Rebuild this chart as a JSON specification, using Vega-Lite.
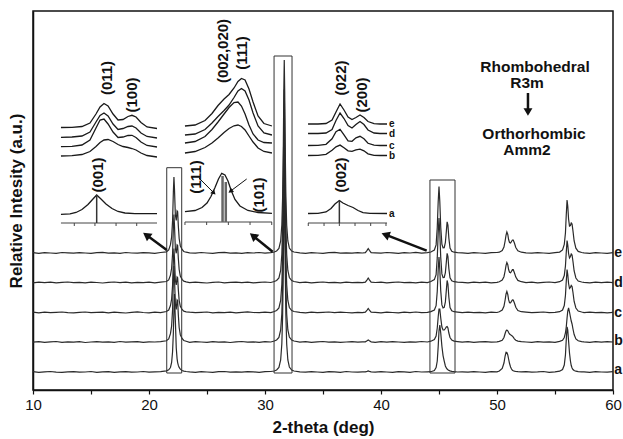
{
"$schema": "https://vega.github.io/schema/vega-lite/v6.json",
"width": 580, "height": 379,
"autosize": {"type": "none"},
"padding": {"left": 33, "top": 11, "right": 10, "bottom": 49},
"config": {"font": "Liberation Sans", "view": {"stroke": "#111", "strokeWidth": 1.5}},
"datasets": {
"main": [
{"t":10,"a":18.3,"b":47.8,"c":77.9,"d":107.2,"e":137.4},
{"t":10.5,"a":17.7,"b":48.4,"c":77.2,"d":107.8,"e":136.7},
{"t":11,"a":18.1,"b":47.6,"c":77.8,"d":107.4,"e":137.3},
{"t":11.5,"a":18.5,"b":48.2,"c":77.3,"d":107.9,"e":137.0},
{"t":12,"a":17.9,"b":48.5,"c":77.6,"d":107.1,"e":136.6},
{"t":12.5,"a":17.6,"b":47.7,"c":78.0,"d":107.6,"e":137.5},
{"t":13,"a":18.2,"b":48.1,"c":77.4,"d":108.0,"e":137.1},
{"t":13.5,"a":18.4,"b":47.9,"c":77.1,"d":107.3,"e":136.8},
{"t":14,"a":17.8,"b":48.3,"c":77.7,"d":107.7,"e":137.4},
{"t":14.5,"a":18.0,"b":47.5,"c":78.0,"d":107.2,"e":137.0},
{"t":15,"a":18.5,"b":48.0,"c":77.3,"d":107.9,"e":136.6},
{"t":15.5,"a":17.7,"b":48.4,"c":77.6,"d":107.5,"e":137.3},
{"t":16,"a":18.1,"b":47.8,"c":77.9,"d":107.0,"e":137.6},
{"t":16.5,"a":18.3,"b":48.2,"c":77.2,"d":107.6,"e":136.9},
{"t":17,"a":17.6,"b":47.6,"c":77.8,"d":108.0,"e":137.2},
{"t":17.5,"a":18.2,"b":48.5,"c":77.4,"d":107.3,"e":136.7},
{"t":18,"a":18.4,"b":47.9,"c":77.0,"d":107.8,"e":137.5},
{"t":18.5,"a":17.9,"b":48.1,"c":77.7,"d":107.1,"e":137.0},
{"t":19,"a":18.0,"b":48.4,"c":78.1,"d":107.7,"e":136.8},
{"t":19.5,"a":18.5,"b":47.7,"c":77.5,"d":107.4,"e":137.4},
{"t":20,"a":17.8,"b":48.2,"c":77.2,"d":107.9,"e":137.1},
{"t":20.5,"a":18.2,"b":48.0,"c":77.8,"d":107.2,"e":136.7},
{"t":21,"a":18.4,"b":48.4,"c":77.4,"d":107.8,"e":137.5},
{"t":21.5,"a":19.2,"b":49.2,"c":78.5,"d":108.5,"e":138.2},
{"t":21.7,"a":20.2,"b":51.0,"c":80.0,"d":110.1,"e":140.0},
{"t":21.85,"a":22.5,"b":56.3,"c":84.5,"d":114.9,"e":145.3},
{"t":21.95,"a":27.5,"b":63.9,"c":90.9,"d":121.7,"e":152.9},
{"t":22.03,"a":38,"b":79.6,"c":104.2,"d":135.8,"e":168.6},
{"t":22.1,"a":57,"b":108.7,"c":128.6,"d":161.8,"e":197.7},
{"t":22.15,"a":80.4,"b":124,"c":141.5,"d":175.5,"e":213},
{"t":22.2,"a":96,"b":110.9,"c":130.5,"d":163.8,"e":199.9},
{"t":22.27,"a":70.3,"b":86.2,"c":109.7,"d":141.7,"e":175.2},
{"t":22.35,"a":42,"b":80.6,"c":105.0,"d":136.7,"e":169.6},
{"t":22.42,"a":31.4,"b":90,"c":112.9,"d":145.1,"e":179},
{"t":22.47,"a":27.4,"b":89.2,"c":112.2,"d":144.4,"e":178.2},
{"t":22.53,"a":24.6,"b":74.8,"c":100.1,"d":131.5,"e":163.8},
{"t":22.6,"a":22.6,"b":62.5,"c":89.7,"d":120.5,"e":151.5},
{"t":22.7,"a":20.8,"b":55.3,"c":83.7,"d":114.0,"e":144.3},
{"t":22.85,"a":19.5,"b":51.5,"c":80.5,"d":110.7,"e":140.5},
{"t":23.0,"a":18.9,"b":49.5,"c":78.8,"d":108.9,"e":138.5},
{"t":23.2,"a":18.5,"b":48.8,"c":78.2,"d":108.2,"e":137.8},
{"t":23.5,"a":18.1,"b":47.7,"c":77.8,"d":107.3,"e":137.2},
{"t":24,"a":17.7,"b":48.3,"c":77.3,"d":107.9,"e":136.8},
{"t":24.5,"a":18.4,"b":48.0,"c":77.6,"d":107.4,"e":137.5},
{"t":25,"a":18.0,"b":47.6,"c":78.0,"d":107.0,"e":137.0},
{"t":25.5,"a":17.6,"b":48.4,"c":77.2,"d":107.7,"e":136.6},
{"t":26,"a":18.3,"b":47.9,"c":77.7,"d":108.0,"e":137.3},
{"t":26.5,"a":18.5,"b":48.2,"c":77.4,"d":107.2,"e":137.6},
{"t":27,"a":17.8,"b":47.5,"c":77.9,"d":107.6,"e":136.9},
{"t":27.5,"a":18.2,"b":48.1,"c":77.1,"d":107.9,"e":137.2},
{"t":28,"a":17.9,"b":48.5,"c":77.6,"d":107.3,"e":136.7},
{"t":28.5,"a":18.4,"b":47.8,"c":78.1,"d":107.8,"e":137.4},
{"t":29,"a":18.1,"b":48.2,"c":77.5,"d":107.1,"e":137.0},
{"t":29.5,"a":17.7,"b":47.7,"c":77.3,"d":107.6,"e":137.5},
{"t":30,"a":18.3,"b":48.4,"c":77.8,"d":108.0,"e":136.8},
{"t":30.5,"a":18.5,"b":48.0,"c":77.4,"d":107.5,"e":137.3},
{"t":30.8,"a":19,"b":49,"c":78.5,"d":108.5,"e":138},
{"t":31.0,"a":20,"b":50,"c":79.5,"d":109.5,"e":139},
{"t":31.2,"a":22.5,"b":52.5,"c":82,"d":112,"e":141.5},
{"t":31.35,"a":30,"b":60,"c":89.5,"d":119.5,"e":149},
{"t":31.45,"a":46,"b":76,"c":105.5,"d":135.5,"e":165},
{"t":31.52,"a":74.4,"b":104.4,"c":133.9,"d":163.9,"e":193.4},
{"t":31.58,"a":125.8,"b":155.8,"c":185.3,"d":215.3,"e":244.8},
{"t":31.62,"a":179,"b":209,"c":238.5,"d":268.5,"e":298},
{"t":31.66,"a":211,"b":241,"c":270.5,"d":300.5,"e":330},
{"t":31.70,"a":179,"b":209,"c":238.5,"d":268.5,"e":298},
{"t":31.74,"a":125.8,"b":155.8,"c":185.3,"d":215.3,"e":244.8},
{"t":31.8,"a":74.4,"b":104.4,"c":133.9,"d":163.9,"e":193.4},
{"t":31.87,"a":46,"b":76,"c":105.5,"d":135.5,"e":165},
{"t":31.97,"a":30,"b":60,"c":89.5,"d":119.5,"e":149},
{"t":32.1,"a":23,"b":53,"c":82.5,"d":112.5,"e":142},
{"t":32.3,"a":20,"b":50,"c":79.5,"d":109.5,"e":139},
{"t":32.5,"a":19,"b":49,"c":78.5,"d":108.5,"e":138},
{"t":33,"a":18.2,"b":47.9,"c":77.6,"d":107.4,"e":137.1},
{"t":33.5,"a":17.8,"b":48.3,"c":77.2,"d":107.8,"e":136.7},
{"t":34,"a":18.4,"b":47.6,"c":77.9,"d":107.1,"e":137.4},
{"t":34.5,"a":18.0,"b":48.1,"c":77.4,"d":107.6,"e":137.0},
{"t":35,"a":17.6,"b":48.5,"c":77.7,"d":108.0,"e":136.6},
{"t":35.5,"a":18.3,"b":47.8,"c":78.0,"d":107.3,"e":137.3},
{"t":36,"a":18.1,"b":48.2,"c":77.3,"d":107.7,"e":137.6},
{"t":36.5,"a":17.7,"b":47.7,"c":77.8,"d":107.2,"e":136.9},
{"t":37,"a":18.5,"b":48.0,"c":77.5,"d":107.9,"e":137.2},
{"t":37.5,"a":18.0,"b":48.4,"c":77.1,"d":107.4,"e":136.8},
{"t":38,"a":17.8,"b":47.9,"c":77.7,"d":107.6,"e":137.4},
{"t":38.4,"a":18.2,"b":48.1,"c":77.4,"d":107.3,"e":137.0},
{"t":38.65,"a":18.1,"b":48.2,"c":77.9,"d":107.9,"e":137.4},
{"t":38.8,"a":18.6,"b":49.2,"c":79.9,"d":110.2,"e":139.7},
{"t":38.9,"a":19.0,"b":50.0,"c":81.5,"d":112.0,"e":141.5},
{"t":39.0,"a":18.6,"b":49.2,"c":79.9,"d":110.2,"e":139.7},
{"t":39.15,"a":18.1,"b":48.2,"c":77.9,"d":107.9,"e":137.4},
{"t":39.5,"a":17.9,"b":47.7,"c":77.6,"d":107.5,"e":137.2},
{"t":40,"a":18.3,"b":48.3,"c":77.2,"d":107.9,"e":136.8},
{"t":40.5,"a":18.0,"b":47.8,"c":77.9,"d":107.2,"e":137.5},
{"t":41,"a":17.6,"b":48.4,"c":77.5,"d":107.6,"e":137.1},
{"t":41.5,"a":18.4,"b":48.0,"c":77.1,"d":108.0,"e":136.7},
{"t":42,"a":18.1,"b":47.6,"c":77.8,"d":107.3,"e":137.4},
{"t":42.5,"a":17.7,"b":48.2,"c":77.4,"d":107.7,"e":137.0},
{"t":43,"a":18.5,"b":47.9,"c":78.0,"d":107.1,"e":137.6},
{"t":43.5,"a":18.0,"b":48.5,"c":77.3,"d":107.8,"e":136.9},
{"t":44,"a":18.2,"b":48.0,"c":77.7,"d":107.4,"e":137.3},
{"t":44.3,"a":18.3,"b":48.8,"c":78.4,"d":108.5,"e":138},
{"t":44.6,"a":19.5,"b":50.5,"c":80.0,"d":110.4,"e":140},
{"t":44.75,"a":22.5,"b":54,"c":84.3,"d":115.4,"e":145.1},
{"t":44.85,"a":29,"b":62,"c":98.7,"d":132.1,"e":162.4},
{"t":44.93,"a":43.4,"b":73,"c":120.2,"d":157.1,"e":188.2},
{"t":45.0,"a":59,"b":81,"c":132.9,"d":171.9,"e":203.4},
{"t":45.07,"a":64.9,"b":81,"c":120.4,"d":157.3,"e":188.3},
{"t":45.15,"a":57,"b":72,"c":99.1,"d":132.4,"e":162.7},
{"t":45.25,"a":43.7,"b":63,"c":85.1,"d":116.1,"e":145.9},
{"t":45.35,"a":34.4,"b":60,"c":82.1,"d":112.5,"e":142.2},
{"t":45.45,"a":28.9,"b":60,"c":82.6,"d":112.6,"e":142.3},
{"t":45.55,"a":24,"b":61.5,"c":88.1,"d":117.4,"e":147.5},
{"t":45.63,"a":22,"b":63,"c":99.4,"d":127.6,"e":158.4},
{"t":45.7,"a":21,"b":63.5,"c":109.5,"d":136.7,"e":168.1},
{"t":45.77,"a":20.2,"b":62,"c":106.0,"d":133.5,"e":164.8},
{"t":45.85,"a":19.6,"b":57,"c":92.7,"d":121.4,"e":151.9},
{"t":45.95,"a":19.1,"b":52.5,"c":82.5,"d":112.2,"e":142},
{"t":46.1,"a":18.6,"b":50,"c":79.3,"d":109.2,"e":138.8},
{"t":46.3,"a":18.3,"b":48.9,"c":78.3,"d":108.3,"e":137.8},
{"t":46.6,"a":18.0,"b":48.4,"c":77.9,"d":107.9,"e":137.4},
{"t":47,"a":18.2,"b":47.8,"c":77.4,"d":107.7,"e":137.1},
{"t":47.5,"a":17.8,"b":48.3,"c":77.9,"d":107.2,"e":136.7},
{"t":48,"a":18.4,"b":47.6,"c":77.3,"d":107.9,"e":137.4},
{"t":48.5,"a":18.0,"b":48.1,"c":77.7,"d":107.4,"e":137.0},
{"t":49,"a":17.7,"b":48.4,"c":77.2,"d":107.8,"e":136.6},
{"t":49.5,"a":18.3,"b":47.9,"c":77.8,"d":107.1,"e":137.3},
{"t":50,"a":18.1,"b":48.2,"c":77.5,"d":107.6,"e":137.5},
{"t":50.2,"a":19,"b":48.6,"c":78.3,"d":108.3,"e":137.8},
{"t":50.45,"a":21.5,"b":49.8,"c":80,"d":109.9,"e":139.5},
{"t":50.6,"a":27,"b":52.5,"c":83.7,"d":113.3,"e":143},
{"t":50.7,"a":34,"b":56.5,"c":90,"d":119,"e":149},
{"t":50.78,"a":37.7,"b":59.2,"c":96,"d":124.7,"e":155},
{"t":50.85,"a":37.5,"b":60,"c":98.5,"d":127.5,"e":158},
{"t":50.93,"a":35,"b":59.2,"c":95.5,"d":125.3,"e":155.5},
{"t":51.0,"a":31,"b":57.5,"c":90.3,"d":120.5,"e":150.5},
{"t":51.08,"a":26.5,"b":56,"c":87.3,"d":117.7,"e":147.5},
{"t":51.17,"a":23,"b":55.2,"c":87.1,"d":117.3,"e":147},
{"t":51.25,"a":21,"b":54.6,"c":88.7,"d":118.8,"e":148.5},
{"t":51.33,"a":19.8,"b":53.8,"c":90.1,"d":120.3,"e":150},
{"t":51.4,"a":19.2,"b":52.8,"c":90,"d":120.3,"e":150},
{"t":51.5,"a":18.8,"b":51.2,"c":87,"d":117.3,"e":147},
{"t":51.62,"a":18.5,"b":49.8,"c":82.7,"d":112.9,"e":142.5},
{"t":51.8,"a":18.3,"b":48.9,"c":79.5,"d":109.6,"e":139.2},
{"t":52.1,"a":18.1,"b":48.4,"c":78.3,"d":108.3,"e":137.8},
{"t":52.5,"a":18.3,"b":48.0,"c":77.8,"d":107.3,"e":137.2},
{"t":53,"a":17.9,"b":47.6,"c":77.3,"d":107.8,"e":136.8},
{"t":53.5,"a":18.1,"b":48.4,"c":77.6,"d":107.2,"e":137.4},
{"t":54,"a":18.5,"b":47.9,"c":78.0,"d":107.6,"e":137.0},
{"t":54.5,"a":17.7,"b":48.2,"c":77.4,"d":108.0,"e":136.6},
{"t":55,"a":18.2,"b":47.7,"c":77.7,"d":107.4,"e":137.3},
{"t":55.4,"a":18.8,"b":48.6,"c":78.3,"d":108.3,"e":137.9},
{"t":55.65,"a":20.5,"b":49.8,"c":80,"d":110,"e":140},
{"t":55.8,"a":25,"b":52.5,"c":84.5,"d":114.5,"e":145.5},
{"t":55.9,"a":35,"b":57,"c":94.5,"d":124,"e":157},
{"t":55.97,"a":50,"b":63,"c":108.5,"d":137.5,"e":175},
{"t":56.04,"a":63,"b":72,"c":120.5,"d":149.5,"e":190},
{"t":56.1,"a":60,"b":79,"c":115.5,"d":145,"e":184},
{"t":56.17,"a":49,"b":82,"c":106.5,"d":136.5,"e":171},
{"t":56.25,"a":37,"b":78,"c":101.5,"d":132,"e":164},
{"t":56.33,"a":29,"b":73,"c":102.5,"d":133.5,"e":164.5},
{"t":56.4,"a":24.5,"b":69,"c":104.5,"d":136,"e":167},
{"t":56.47,"a":22,"b":66,"c":103.5,"d":135,"e":166},
{"t":56.55,"a":20.5,"b":61,"c":97.5,"d":128.5,"e":159},
{"t":56.65,"a":19.5,"b":55.5,"c":88.5,"d":119,"e":149},
{"t":56.8,"a":18.8,"b":51,"c":82,"d":112,"e":141.8},
{"t":57.0,"a":18.4,"b":49.2,"c":79,"d":109,"e":138.6},
{"t":57.3,"a":18.2,"b":48.4,"c":78,"d":108,"e":137.5},
{"t":57.5,"a":18.1,"b":48.1,"c":77.4,"d":107.7,"e":137.1},
{"t":58,"a":17.7,"b":47.7,"c":77.9,"d":107.2,"e":136.7},
{"t":58.5,"a":18.4,"b":48.3,"c":77.3,"d":107.9,"e":137.4},
{"t":59,"a":18.0,"b":47.9,"c":77.7,"d":107.4,"e":137.0},
{"t":59.5,"a":17.8,"b":48.4,"c":77.2,"d":107.8,"e":136.7},
{"t":60,"a":18.3,"b":48.0,"c":77.6,"d":107.3,"e":137.3}
],
"i1": [
{"t":12.41,"e":262.5,"d":252.7,"c":243.3,"b":234},
{"t":13.36,"e":262.7,"d":253,"c":243.7,"b":234.3},
{"t":14.22,"e":263.5,"d":254,"c":245,"b":235.5},
{"t":14.91,"e":267,"d":258,"c":250,"b":238.5},
{"t":15.43,"e":276,"d":268,"c":262,"b":243.5},
{"t":15.78,"e":283,"d":274.5,"c":270,"b":247.5},
{"t":16.12,"e":286.5,"d":277,"c":271,"b":250},
{"t":16.47,"e":284,"d":274,"c":266,"b":250.5},
{"t":16.90,"e":276,"d":266,"c":258,"b":248.5},
{"t":17.33,"e":270,"d":260.5,"c":252.5,"b":245.5},
{"t":17.76,"e":270.5,"d":261.5,"c":253,"b":243.5},
{"t":18.19,"e":273.5,"d":263.5,"c":254.5,"b":242.5},
{"t":18.53,"e":274.7,"d":264,"c":254.7,"b":241.5},
{"t":18.88,"e":273,"d":262,"c":252.5,"b":240},
{"t":19.31,"e":267.5,"d":257,"c":248,"b":237},
{"t":19.83,"e":263,"d":253.5,"c":244.5,"b":234.5},
{"t":20.69,"e":261.5,"d":252,"c":243,"b":233}
],
"i2": [
{"t":23.10,"e":264,"d":255,"c":247,"b":237},
{"t":23.97,"e":265,"d":256,"c":248.5,"b":238.5},
{"t":24.83,"e":269.5,"d":260.5,"c":253.5,"b":242.5},
{"t":25.43,"e":276.5,"d":267,"c":260.5,"b":247},
{"t":25.95,"e":284.5,"d":273.5,"c":268,"b":252},
{"t":26.47,"e":291,"d":279.5,"c":276,"b":257.5},
{"t":26.90,"e":295.5,"d":285,"c":282.5,"b":261.5},
{"t":27.33,"e":302,"d":292.5,"c":287.5,"b":264.2},
{"t":27.67,"e":308.5,"d":299,"c":288,"b":265},
{"t":27.97,"e":311.5,"d":301.5,"c":284,"b":263.5},
{"t":28.28,"e":310,"d":299,"c":276,"b":260},
{"t":28.62,"e":301,"d":290,"c":265,"b":254},
{"t":28.97,"e":288,"d":277,"c":256,"b":248},
{"t":29.40,"e":274,"d":264,"c":250,"b":242},
{"t":29.91,"e":266.5,"d":257,"c":247.5,"b":238.5},
{"t":30.60,"e":264,"d":255,"c":247,"b":237}
],
"i3": [
{"t":33.71,"e":266,"d":256.5,"c":244.5,"b":234.5},
{"t":34.57,"e":266,"d":256.5,"c":244.7,"b":234.7},
{"t":35.26,"e":266.5,"d":257,"c":245.7,"b":235.7},
{"t":35.78,"e":270,"d":260.5,"c":251.2,"b":239.7},
{"t":36.12,"e":278,"d":269.5,"c":258.2,"b":243.2},
{"t":36.47,"e":286,"d":277,"c":260.7,"b":244.9},
{"t":36.81,"e":280,"d":271.5,"c":255.2,"b":242.2},
{"t":37.16,"e":273,"d":264.5,"c":249.2,"b":239.2},
{"t":37.50,"e":270.5,"d":262,"c":248.7,"b":238.7},
{"t":37.84,"e":272.5,"d":265.5,"c":252.2,"b":240.2},
{"t":38.19,"e":275,"d":268.5,"c":253.7,"b":240.9},
{"t":38.53,"e":272.5,"d":265.5,"c":251.2,"b":239.2},
{"t":38.88,"e":268.5,"d":260,"c":246.7,"b":236.2},
{"t":39.40,"e":266.3,"d":257,"c":244.9,"b":234.7},
{"t":39.91,"e":266,"d":256.5,"c":244.5,"b":234.5},
{"t":40.52,"e":266,"d":256.5,"c":244.5,"b":234.5}
],
"ia": [
{"s":"1","t":12.41,"v":175.7},{"s":"1","t":13.19,"v":176.2},{"s":"1","t":13.71,"v":177.5},{"s":"1","t":14.22,"v":180.5},{"s":"1","t":14.74,"v":185.5},{"s":"1","t":15.17,"v":191},{"s":"1","t":15.49,"v":195},{"s":"1","t":15.86,"v":191},{"s":"1","t":16.29,"v":186},{"s":"1","t":16.81,"v":181.5},{"s":"1","t":17.33,"v":178.5},{"s":"1","t":17.93,"v":177},{"s":"1","t":18.79,"v":176.3},{"s":"1","t":20.69,"v":176.3},
{"s":"2","t":23.10,"v":178.3},{"s":"2","t":23.97,"v":179.5},{"s":"2","t":24.57,"v":182.5},{"s":"2","t":25.00,"v":187},{"s":"2","t":25.34,"v":193.5},{"s":"2","t":25.69,"v":202.5},{"s":"2","t":25.99,"v":211},{"s":"2","t":26.27,"v":216.7},{"s":"2","t":26.55,"v":215},{"s":"2","t":26.81,"v":209},{"s":"2","t":27.07,"v":200},{"s":"2","t":27.41,"v":190.5},{"s":"2","t":27.84,"v":184},{"s":"2","t":28.53,"v":179.5},{"s":"2","t":29.40,"v":177.5},{"s":"2","t":30.60,"v":176.7},
{"s":"3","t":33.71,"v":176.5},{"s":"3","t":34.57,"v":176.7},{"s":"3","t":35.26,"v":178},{"s":"3","t":35.69,"v":181.5},{"s":"3","t":36.03,"v":186},{"s":"3","t":36.41,"v":189.5},{"s":"3","t":36.72,"v":187},{"s":"3","t":37.16,"v":184.5},{"s":"3","t":37.59,"v":182.5},{"s":"3","t":38.02,"v":179.5},{"s":"3","t":38.45,"v":177.3},{"s":"3","t":39.05,"v":176.7},{"s":"3","t":40.52,"v":176.5}
],
"ax": [
{"t":12.41,"v":167,"t2":20.69,"v2":167},{"t":23.10,"v":168,"t2":30.60,"v2":168},{"t":33.71,"v":167,"t2":40.52,"v2":167},
{"t":13.56,"v":167,"t2":13.56,"v2":164},{"t":15.34,"v":167,"t2":15.34,"v2":164},{"t":17.16,"v":167,"t2":17.16,"v2":164},{"t":18.94,"v":167,"t2":18.94,"v2":164},
{"t":23.10,"v":168,"t2":23.10,"v2":165},{"t":24.97,"v":168,"t2":24.97,"v2":165},{"t":26.84,"v":168,"t2":26.84,"v2":165},{"t":28.71,"v":168,"t2":28.71,"v2":165},{"t":30.58,"v":168,"t2":30.58,"v2":165},
{"t":33.73,"v":167,"t2":33.73,"v2":164},{"t":35.09,"v":167,"t2":35.09,"v2":164},{"t":36.41,"v":167,"t2":36.41,"v2":164},{"t":37.76,"v":167,"t2":37.76,"v2":164},{"t":39.11,"v":167,"t2":39.11,"v2":164},{"t":40.43,"v":167,"t2":40.43,"v2":164}
],
"st1": [{"t":15.49,"v":195,"t2":15.49,"v2":167},{"t":36.41,"v":189.5,"t2":36.41,"v2":167}],
"st2": [{"t":26.34,"v":214,"t2":26.34,"v2":168},{"t":26.62,"v":208,"t2":26.62,"v2":168}],
"arr": [{"t":21.53,"v":140,"t2":19.78,"v2":154.9},{"t":30.66,"v":138.3,"t2":28.97,"v2":154.2},{"t":43.94,"v":139.3,"t2":40.38,"v2":155.3},{"t":52.67,"v":297,"t2":52.67,"v2":279}],
"iarr": [{"t":24.31,"v":212,"t2":25.59,"v2":197.1},{"t":28.42,"v":211,"t2":27.02,"v2":198.8}],
"box": [{"t":21.53,"t2":22.82,"v":17,"v2":222.3},{"t":30.78,"t2":32.33,"v":17,"v2":334},{"t":44.22,"t2":46.38,"v":17,"v2":210}],
"rl": [
{"t":16.38,"v":312,"txt":"(011)"},{"t":18.53,"v":295,"txt":"(100)"},{"t":15.60,"v":215,"txt":"(001)"},
{"t":26.42,"v":339,"txt":"(002,020)"},{"t":27.99,"v":337,"txt":"(111)"},{"t":24.05,"v":213,"txt":"(111)"},{"t":29.48,"v":195,"txt":"(101)"},
{"t":36.59,"v":312,"txt":"(022)"},{"t":38.32,"v":295,"txt":"(200)"},{"t":36.59,"v":215,"txt":"(002)"}
],
"sl": [{"t":40.69,"v":266,"txt":"e"},{"t":40.69,"v":256.5,"txt":"d"},{"t":40.69,"v":244.5,"txt":"c"},{"t":40.69,"v":234.5,"txt":"b"},{"t":40.69,"v":176.5,"txt":"a"}],
"pt": [{"t":53.28,"v":323.5,"txt":"Rhombohedral"},{"t":52.59,"v":307.5,"txt":"R3m"},{"t":53.19,"v":256.5,"txt":"Orthorhombic"},{"t":52.59,"v":240.5,"txt":"Amm2"}],
"rt": [{"t":60.1,"v":137,"txt":"e"},{"t":60.1,"v":107,"txt":"d"},{"t":60.1,"v":77,"txt":"c"},{"t":60.1,"v":49,"txt":"b"},{"t":60.1,"v":20,"txt":"a"}]
},
"encoding": {
"x": {"field": "t", "type": "quantitative", "title": "2-theta (deg)",
 "scale": {"domain": [10, 60], "nice": false, "zero": false},
 "axis": {"values": [10,15,20,25,30,35,40,45,50,55,60], "labelExpr": "datum.value % 10 === 0 ? datum.label : ''", "grid": false, "tickSize": 4, "tickColor": "#111", "tickWidth": 1.2, "domainColor": "#111", "domainWidth": 1.5, "labelFontSize": 15, "labelColor": "#111", "labelPadding": 3, "labelFlush": false, "titleFontSize": 17, "titleFontWeight": "bold", "titleColor": "#111", "titlePadding": 7}},
"y": {"field": "v", "type": "quantitative", "title": "Relative Intesity (a.u.)",
 "scale": {"domain": [0, 379], "nice": false, "zero": false},
 "axis": {"ticks": false, "labels": false, "grid": false, "domainColor": "#111", "domainWidth": 1.5, "titleFontSize": 17, "titleFontWeight": "bold", "titleColor": "#111", "titlePadding": 8}}
},
"layer": [
{"data": {"name": "main"}, "transform": [{"fold": ["a","b","c","d","e"], "as": ["s","v"]}], "mark": {"type": "line", "color": "#2a2a2a", "strokeWidth": 1.2}, "encoding": {"detail": {"field": "s"}}},
{"data": {"name": "i1"}, "transform": [{"fold": ["e","d","c","b"], "as": ["s","v"]}], "mark": {"type": "line", "color": "#1a1a1a", "strokeWidth": 1.3}, "encoding": {"detail": {"field": "s"}}},
{"data": {"name": "i2"}, "transform": [{"fold": ["e","d","c","b"], "as": ["s","v"]}], "mark": {"type": "line", "color": "#1a1a1a", "strokeWidth": 1.3}, "encoding": {"detail": {"field": "s"}}},
{"data": {"name": "i3"}, "transform": [{"fold": ["e","d","c","b"], "as": ["s","v"]}], "mark": {"type": "line", "color": "#1a1a1a", "strokeWidth": 1.3}, "encoding": {"detail": {"field": "s"}}},
{"data": {"name": "ia"}, "mark": {"type": "line", "color": "#1a1a1a", "strokeWidth": 1.3}, "encoding": {"detail": {"field": "s"}}},
{"data": {"name": "box"}, "mark": {"type": "rect", "filled": false, "stroke": "#333", "strokeWidth": 1}, "encoding": {"x2": {"field": "t2"}, "y2": {"field": "v2"}}},
{"data": {"name": "ax"}, "mark": {"type": "rule", "color": "#444", "strokeWidth": 1}, "encoding": {"x2": {"field": "t2"}, "y2": {"field": "v2"}}},
{"data": {"name": "st1"}, "mark": {"type": "rule", "color": "#333", "strokeWidth": 1.5}, "encoding": {"x2": {"field": "t2"}, "y2": {"field": "v2"}}},
{"data": {"name": "st2"}, "mark": {"type": "rule", "color": "#666", "strokeWidth": 2.5}, "encoding": {"x2": {"field": "t2"}, "y2": {"field": "v2"}}},
{"data": {"name": "arr"}, "mark": {"type": "rule", "color": "#111", "strokeWidth": 2.5}, "encoding": {"x2": {"field": "t2"}, "y2": {"field": "v2"}}},
{"data": {"name": "iarr"}, "mark": {"type": "rule", "color": "#111", "strokeWidth": 1}, "encoding": {"x2": {"field": "t2"}, "y2": {"field": "v2"}}},
{"data": {"values": [{"t": 19.78, "v": 154.9}]}, "mark": {"type": "point", "shape": "triangle-up", "filled": true, "color": "#111", "opacity": 1, "size": 90, "angle": 306.5}, "encoding": {}},
{"data": {"values": [{"t": 28.97, "v": 154.2}]}, "mark": {"type": "point", "shape": "triangle-up", "filled": true, "color": "#111", "opacity": 1, "size": 90, "angle": 309}, "encoding": {}},
{"data": {"values": [{"t": 40.38, "v": 155.3}]}, "mark": {"type": "point", "shape": "triangle-up", "filled": true, "color": "#111", "opacity": 1, "size": 90, "angle": 291}, "encoding": {}},
{"data": {"values": [{"t": 52.67, "v": 278}]}, "mark": {"type": "point", "shape": "triangle-up", "filled": true, "color": "#111", "opacity": 1, "size": 80, "angle": 180}, "encoding": {}},
{"data": {"values": [{"t": 25.59, "v": 197.1}]}, "mark": {"type": "point", "shape": "triangle-up", "filled": true, "color": "#111", "opacity": 1, "size": 30, "angle": 135}, "encoding": {}},
{"data": {"values": [{"t": 27.02, "v": 198.8}]}, "mark": {"type": "point", "shape": "triangle-up", "filled": true, "color": "#111", "opacity": 1, "size": 30, "angle": 233}, "encoding": {}},
{"data": {"name": "rl"}, "mark": {"type": "text", "angle": 270, "fontSize": 15, "fontWeight": "bold", "color": "#111", "align": "center", "baseline": "middle"}, "encoding": {"text": {"field": "txt"}}},
{"data": {"name": "sl"}, "mark": {"type": "text", "fontSize": 10, "fontWeight": "bold", "color": "#111", "align": "left", "baseline": "middle"}, "encoding": {"text": {"field": "txt"}}},
{"data": {"name": "pt"}, "mark": {"type": "text", "fontSize": 15.5, "fontWeight": "bold", "color": "#111", "align": "center", "baseline": "middle"}, "encoding": {"text": {"field": "txt"}}},
{"data": {"name": "rt"}, "mark": {"type": "text", "fontSize": 14, "fontWeight": "bold", "color": "#111", "align": "left", "baseline": "middle"}, "encoding": {"text": {"field": "txt"}}}
]
}
